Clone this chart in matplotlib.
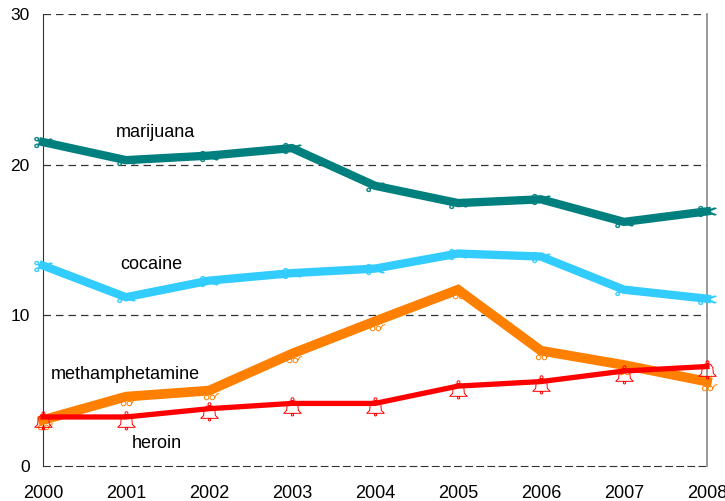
import matplotlib
matplotlib.use("Agg")
import matplotlib.pyplot as plt
from matplotlib.path import Path
import numpy as np

years = [2000, 2001, 2002, 2003, 2004, 2005, 2006, 2007, 2008]
marijuana = [21.5, 20.3, 20.6, 21.1, 18.6, 17.45, 17.7, 16.2, 16.9]
cocaine = [13.3, 11.2, 12.3, 12.8, 13.1, 14.1, 13.9, 11.7, 11.1]
methamphetamine = [3.05, 4.6, 5.0, 7.45, 9.6, 11.7, 7.65, 6.7, 5.6]
heroin = [3.25, 3.25, 3.8, 4.15, 4.15, 5.3, 5.6, 6.3, 6.6]
yticks = [0, 10, 20, 30]

plt.rcParams['font.family'] = ['Liberation Sans', 'DejaVu Sans']

fig = plt.figure(figsize=(7.25, 5.01), dpi=100)
ax = fig.add_axes([0.0593, 0.070, 0.9158, 0.902])
ax.set_xlim(2000, 2008)
ax.set_ylim(0, 30)

# marker shapes
bell_verts = [(-0.9, -0.6), (-0.6, -0.3), (-0.55, 0.3), (-0.3, 0.65), (0, 0.7),
              (0.3, 0.65), (0.55, 0.3), (0.6, -0.3), (0.9, -0.6), (-0.9, -0.6)]
bell_codes = [Path.MOVETO] + [Path.LINETO] * 8 + [Path.CLOSEPOLY]
bell = Path.make_compound_path(
    Path(bell_verts, bell_codes),
    Path.circle((0, 0.85), 0.15),
    Path.circle((0, -0.75), 0.12))
c1 = Path.circle((-0.45, 0), 0.35)
c2 = Path.circle((0.45, 0), 0.35)
arm = Path([(0.8, 0.0), (1.1, 0.5), (1.5, 0.6)], [Path.MOVETO, Path.LINETO, Path.LINETO])
glasses = Path.make_compound_path(c1, c2, arm)

teal = '#007F7F'
sky = '#33CCFF'
orange = '#FF8000'
red = '#FF0000'

ax.plot(years, marijuana, color=teal, lw=6, zorder=4, solid_joinstyle='miter', clip_on=False)
ax.plot(years, marijuana, ls='none', marker='$\u2702$', ms=13, color=teal, mew=0.3, zorder=3, clip_on=False)
ax.plot(years, cocaine, color=sky, lw=6, zorder=4, solid_joinstyle='miter', clip_on=False)
ax.plot(years, cocaine, ls='none', marker='$\u2702$', ms=13, color=sky, mew=0.3, zorder=3, clip_on=False)
ax.plot(years, methamphetamine, color=orange, lw=7, zorder=4, solid_joinstyle='miter', clip_on=False)
ax.plot(years, [v - 0.45 for v in methamphetamine], ls='none', marker=glasses, ms=14, mfc='none',
        mec=orange, mew=0.7, zorder=3, clip_on=False)
ax.plot(years, heroin, color=red, lw=3.8, zorder=5, solid_joinstyle='miter', clip_on=False)
ax.plot(years, [v - 0.25 for v in heroin], ls='none', marker=bell, ms=14, mfc='none',
        mec=red, mew=0.7, zorder=6, clip_on=False)

# grid
for y in [10, 20, 30]:
    ax.axhline(y, color='#333333', lw=0.9, ls=(0, (6, 4)), zorder=1)

ax.spines['top'].set_visible(False)
ax.spines['bottom'].set_linestyle((0, (6, 4)))
ax.spines['bottom'].set_color('#333333')
ax.spines['left'].set_color('#333333')
ax.spines['right'].set_color('#888888')
ax.spines['right'].set_linewidth(1.2)

ax.set_xticks(years)
ax.set_xticklabels([str(y) for y in years])
ax.set_yticks(yticks)
ax.tick_params(axis='both', length=0)
ax.tick_params(axis='x', pad=14, labelsize=13)
ax.tick_params(axis='y', pad=9.5, labelsize=12.5)

ax.text(2001.36, 22.15, 'marijuana', fontsize=13, ha='center', va='center')
ax.text(2001.3, 13.35, 'cocaine', fontsize=13, ha='center', va='center')
ax.text(2000.99, 6.05, 'methamphetamine', fontsize=13, ha='center', va='center')
ax.text(2001.37, 1.5, 'heroin', fontsize=13, ha='center', va='center')

fig.savefig('out.png', dpi=100)
